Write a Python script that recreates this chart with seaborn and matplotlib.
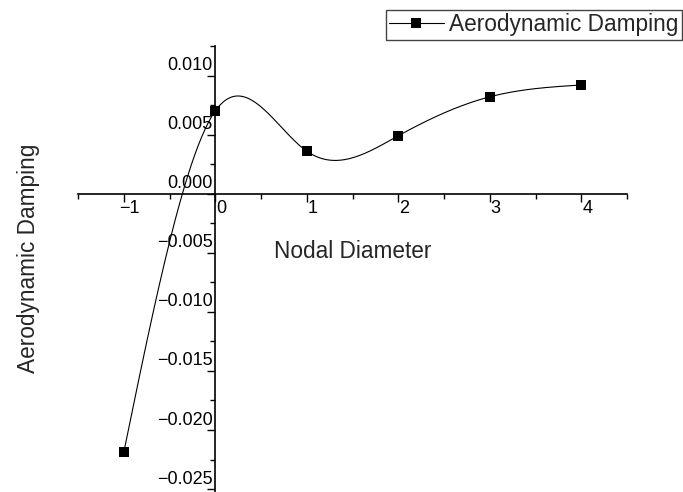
import numpy as np
import pandas as pd
import seaborn as sns
import matplotlib
matplotlib.use("Agg")
import matplotlib.pyplot as plt
from matplotlib.lines import Line2D
from matplotlib.ticker import MultipleLocator, FuncFormatter
from matplotlib.transforms import ScaledTranslation

nodal_diameter = [-1, 0, 1, 2, 3, 4]
aero_damping = [-0.0219, 0.0070, 0.0036, 0.0049, 0.0082, 0.0092]

sns.set_style("white")
plt.rcParams['font.family'] = ['Liberation Sans', 'DejaVu Sans']


def natural_spline(x, y, n=400):
    # natural cubic spline through the points, for the connecting line
    x = np.asarray(x, float)
    y = np.asarray(y, float)
    k = len(x)
    h = np.diff(x)
    A = np.zeros((k, k))
    b = np.zeros(k)
    A[0, 0] = A[-1, -1] = 1
    for i in range(1, k - 1):
        A[i, i - 1] = h[i - 1]
        A[i, i] = 2 * (h[i - 1] + h[i])
        A[i, i + 1] = h[i]
        b[i] = 6 * ((y[i + 1] - y[i]) / h[i] - (y[i] - y[i - 1]) / h[i - 1])
    M = np.linalg.solve(A, b)
    xs = np.linspace(x[0], x[-1], n)
    idx = np.clip(np.searchsorted(x, xs) - 1, 0, k - 2)
    x0, x1 = x[idx], x[idx + 1]
    hh = x1 - x0
    ys = (M[idx] * (x1 - xs) ** 3 / (6 * hh) + M[idx + 1] * (xs - x0) ** 3 / (6 * hh)
          + (y[idx] / hh - M[idx] * hh / 6) * (x1 - xs)
          + (y[idx + 1] / hh - M[idx + 1] * hh / 6) * (xs - x0))
    return xs, ys


df = pd.DataFrame({'nd': nodal_diameter, 'damp': aero_damping})
sx, sy = natural_spline(nodal_diameter, aero_damping)
df_curve = pd.DataFrame({'nd': sx, 'damp': sy})

fig = plt.figure(figsize=(6.83, 4.92), dpi=100)
W, H = 683, 492
ax = fig.add_axes([78 / W, 1 - 495 / H, (627 - 78) / W, (495 - 46) / H])

sns.lineplot(data=df_curve, x='nd', y='damp', ax=ax, color='black', linewidth=0.8,
             sort=False, estimator=None)
sns.scatterplot(data=df, x='nd', y='damp', ax=ax, marker='s', color='black',
                s=52, linewidth=0, zorder=5)

ax.set_xlim(-1.5, 4.5)
ax.set_ylim(-0.0255, 0.0125)

for side in ['top', 'right']:
    ax.spines[side].set_visible(False)
ax.spines['left'].set_position(('data', 0))
ax.spines['bottom'].set_position(('data', 0))
for side in ['left', 'bottom']:
    ax.spines[side].set_linewidth(1.2)
    ax.spines[side].set_color('black')

ax.xaxis.set_major_locator(MultipleLocator(1))
ax.xaxis.set_minor_locator(MultipleLocator(0.5))
ax.xaxis.set_major_formatter(FuncFormatter(lambda v, p: f"{v:.0f}".replace('-', '\u2212')))
ax.yaxis.set_major_locator(MultipleLocator(0.005))
ax.yaxis.set_minor_locator(MultipleLocator(0.0025))
ax.yaxis.set_major_formatter(FuncFormatter(
    lambda v, p: f"{0.0 if abs(v) < 1e-9 else v:.3f}".replace('-', '\u2212')))

ax.tick_params(which='major', direction='out', length=6, width=1, color='black',
               labelsize=13, labelcolor='black')
ax.tick_params(which='minor', direction='out', length=3.5, width=1, color='black')
ax.tick_params(axis='x', which='major', pad=0)
ax.tick_params(axis='y', which='major', pad=0)
ax.tick_params(left=True, bottom=True, which='both')

for lab in ax.get_xticklabels():
    lab.set_transform(lab.get_transform() + ScaledTranslation(0.06, 0.02, fig.dpi_scale_trans))
for lab in ax.get_yticklabels():
    lab.set_transform(lab.get_transform() + ScaledTranslation(0.06, 0.12, fig.dpi_scale_trans))

ax.set_xlabel("Nodal Diameter", fontsize=16.3)
ax.xaxis.set_label_coords(0.5, (495 - 252) / 449)
ax.xaxis.label.set_va('center')
ax.set_ylabel("Aerodynamic Damping", fontsize=16.3)
ax.yaxis.set_label_coords((29 - 78) / 549, (495 - 258) / 449)
ax.yaxis.label.set_va('center')
ax.yaxis.label.set_ha('center')

handle = Line2D([], [], color='black', linewidth=0.8, marker='s', markersize=7.2,
                markeredgewidth=0)
leg = fig.legend([handle], ["Aerodynamic Damping"], loc='upper right',
                 bbox_to_anchor=(682 / W, 1 - 10 / H), borderaxespad=0,
                 fontsize=16.3, frameon=True, fancybox=False, framealpha=1,
                 edgecolor='#444444', borderpad=0.15, handlelength=2.4,
                 handletextpad=0.25)
leg.get_frame().set_linewidth(1)

fig.savefig("out.png", dpi=100)
